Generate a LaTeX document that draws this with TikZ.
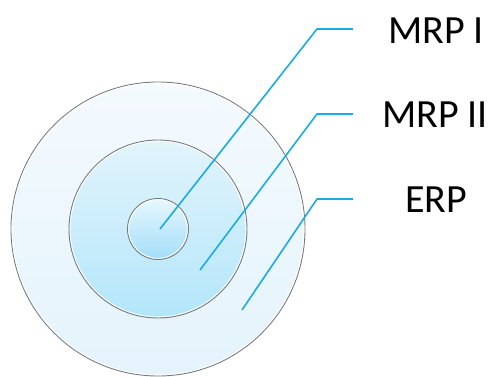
\documentclass[tikz,border=0pt]{standalone}
\usepackage{fontspec}
\setmainfont{Carlito}
\definecolor{linkblue}{HTML}{1AACE0}
\definecolor{ringgray}{HTML}{7A7A7A}
\definecolor{outtop}{HTML}{F4FAFE}
\definecolor{outbot}{HTML}{E4F3FC}
\definecolor{midtop}{HTML}{E2F4FC}
\definecolor{midbot}{HTML}{B3E6FA}
\definecolor{intop}{HTML}{E6F7FE}
\definecolor{inbot}{HTML}{A3DEF9}
\tikzset{
  ring/.style={draw=ringgray, line width=0.9pt},
  inner edge/.style={draw=white, line width=0.8pt},
  link/.style={draw=linkblue, line width=1.6pt, line join=round},
  label/.style={font=\fontsize{40}{40}\selectfont, text=black, inner sep=0pt, anchor=base}
}
\begin{document}
\begin{tikzpicture}[x=1pt,y=1pt]
\useasboundingbox (0,0) rectangle (492,376);
\clip (0,0) rectangle (492,376);
% circles
\coordinate (c) at (158,147);
\shade[top color=outtop, bottom color=outbot] (c) circle (147);
\draw[ring] (c) circle (147);
\draw[inner edge] (c) circle (145.8);
\shade[top color=midtop, bottom color=midbot] (c) circle (89);
\draw[ring] (c) circle (89);
\draw[inner edge] (c) circle (87.8);
\shade[top color=intop, bottom color=inbot] (c) circle (30.5);
\draw[ring] (c) circle (30.5);
\draw[inner edge] (c) circle (29.3);
% labels
\node[label] (t1) at (436,333) {MRP I};
\node[label] (t2) at (435,249) {MRP II};
\node[label] (t3) at (436,164) {ERP};
% connectors
\coordinate (s1) at (160,147);
\coordinate (k1) at (317,347);
\coordinate (e1) at (353,347);
\coordinate (s2) at (200,106);
\coordinate (k2) at (317,262);
\coordinate (e2) at (353,262);
\coordinate (s3) at (242,66);
\coordinate (k3) at (317,177);
\coordinate (e3) at (353,177);
\draw[link] (s1) -- (k1) -- (e1);
\draw[link] (s2) -- (k2) -- (e2);
\draw[link] (s3) -- (k3) -- (e3);
\end{tikzpicture}
\end{document}
